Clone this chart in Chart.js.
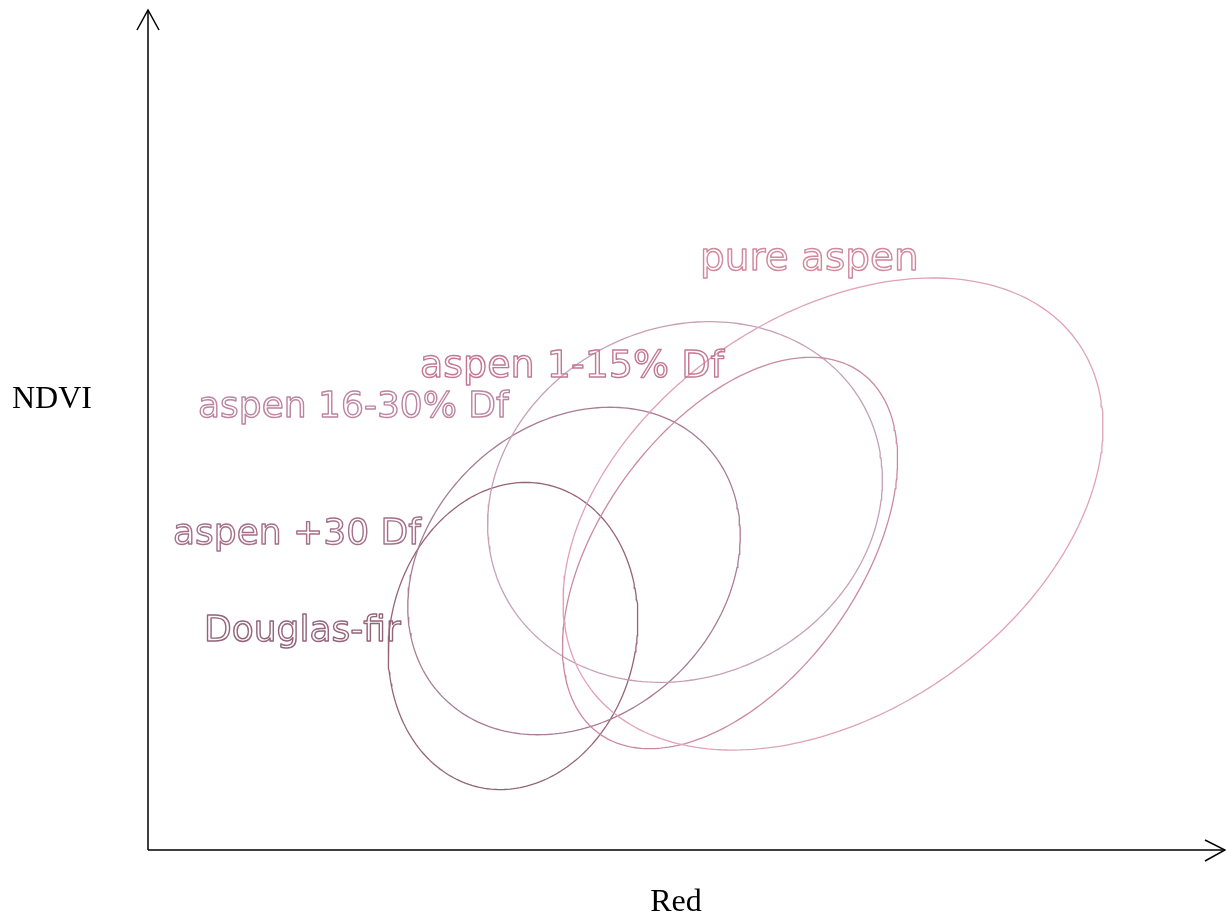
<!DOCTYPE html>
<html>
<head>
<meta charset="utf-8">
<script src="https://cdn.jsdelivr.net/npm/chart.js@4"></script>
<style>
    html, body { margin: 0; padding: 0; background: #fff; }
    #wrap { width: 1226px; height: 921px; }
</style>
</head>
<body>
<div id="wrap"><canvas id="ellipseChart"></canvas></div>
<script>
// stand groups and their ellipse in Red / NDVI space
const groups = ['pure aspen', 'aspen 1-15% Df', 'aspen 16-30% Df', 'aspen +30 Df', 'Douglas-fir'];
const centerRed = [685, 582, 537, 426, 365];
const centerNdvi = [336, 297, 348, 279, 214];
const semiMajor = [299, 223, 203, 182, 155];
const semiMinor = [198, 129, 174, 146, 123];
const tiltDeg = [35, 54, 27, 43, 77];

// where each group name is written
const labelRed = [552, 272, 50, 25, 56];
const labelNdvi = [590, 483, 442, 315, 218];

const lineColors = ['#e0a2b6', '#cc8aa2', '#c6a0b6', '#a87c92', '#946476'];
const labelColors = ['#d0889e', '#c27890', '#bc84a0', '#a47088', '#94647a'];
const labelSizes = [39, 38, 36, 36, 36];

function ellipsePoints(i) {
    const pts = [];
    const th = tiltDeg[i] * Math.PI / 180;
    for (let k = 0; k <= 240; k++) {
        const t = k / 240 * 2 * Math.PI;
        const u = semiMajor[i] * Math.cos(t);
        const v = semiMinor[i] * Math.sin(t);
        pts.push({
            x: centerRed[i] + u * Math.cos(th) - v * Math.sin(th),
            y: centerNdvi[i] + u * Math.sin(th) + v * Math.cos(th)
        });
    }
    return pts;
}

// axes with arrow heads, axis names and outlined group names
const decorations = {
    id: 'decorations',
    afterDatasetsDraw(chart) {
        const ctx = chart.ctx;
        const area = chart.chartArea;
        const xs = chart.scales.x, ys = chart.scales.y;
        const ox = area.left, oy = area.bottom;

        ctx.save();
        ctx.strokeStyle = '#000';
        ctx.lineWidth = 1.5;
        ctx.beginPath();
        ctx.moveTo(ox, oy);
        ctx.lineTo(ox, area.top);
        ctx.moveTo(ox, oy);
        ctx.lineTo(area.right, oy);
        ctx.stroke();

        ctx.beginPath();
        ctx.moveTo(ox - 11, area.top + 20);
        ctx.lineTo(ox, area.top);
        ctx.lineTo(ox + 11, area.top + 20);
        ctx.moveTo(area.right - 20, oy - 10);
        ctx.lineTo(area.right, oy);
        ctx.lineTo(area.right - 20, oy + 11);
        ctx.stroke();

        ctx.fillStyle = '#000';
        ctx.font = '32px "Liberation Serif", "Times New Roman", serif';
        ctx.textBaseline = 'middle';
        ctx.textAlign = 'left';
        ctx.fillText('NDVI', 12, 400);
        ctx.textAlign = 'center';
        ctx.fillText('Red', 676, 903);

        ctx.textAlign = 'left';
        ctx.lineWidth = 1.4;
        ctx.lineJoin = 'round';
        groups.forEach((name, i) => {
            ctx.font = labelSizes[i] + 'px "DejaVu Sans", Verdana, sans-serif';
            ctx.strokeStyle = labelColors[i];
            ctx.strokeText(name, xs.getPixelForValue(labelRed[i]), ys.getPixelForValue(labelNdvi[i]));
        });
        ctx.restore();
    }
};

new Chart(document.getElementById('ellipseChart').getContext('2d'), {
    type: 'scatter',
    data: {
        datasets: groups.map((name, i) => ({
            label: name,
            data: ellipsePoints(i),
            showLine: true,
            fill: false,
            borderColor: lineColors[i],
            borderWidth: 1.3,
            pointRadius: 0,
            tension: 0
        }))
    },
    options: {
        responsive: true,
        maintainAspectRatio: false,
        animation: false,
        layout: {
            padding: { left: 148, top: 10, right: 1, bottom: 71 }
        },
        plugins: {
            legend: { display: false },
            tooltip: { enabled: false }
        },
        scales: {
            x: { type: 'linear', min: 0, max: 1077, display: false },
            y: { type: 'linear', min: 0, max: 840, display: false }
        }
    },
    plugins: [decorations]
});
</script>
</body>
</html>
